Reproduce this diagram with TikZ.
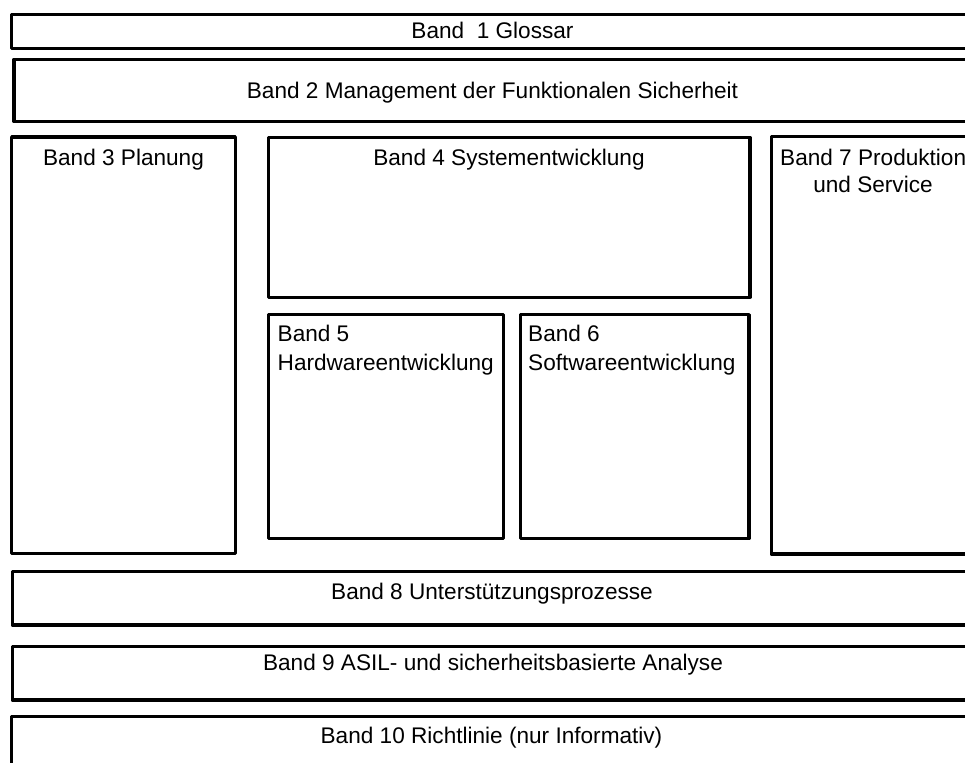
\documentclass[tikz,border=0pt]{standalone}
\usepackage{fontspec}
\setmainfont{Liberation Sans}
\begin{document}
\begin{tikzpicture}[x=1bp,y=-1bp,
  box/.style={draw=black,line width=3.3bp,line join=round},
  lbl/.style={inner sep=0pt,anchor=base,font=\fontsize{22.6bp}{27bp}\selectfont},
  lbll/.style={lbl,anchor=base west}]
  \clip (0,0) rectangle (965,763);
  \fill[white] (0,0) rectangle (965,763);

  % horizontal bands
  \draw[box] (11.5,14.3) rectangle (975,48.7);
  \draw[box] (14,59.3) rectangle (975,121.5);
  \draw[box] (12.3,571.7) rectangle (975,625);
  \draw[box] (12.3,646.7) rectangle (975,700);
  \draw[box] (11.3,716.7) rectangle (975,800);

  % middle block
  \draw[box] (11.7,137) rectangle (235.3,553.8);
  \draw[box] (268.7,137.5) rectangle (750,297.2);
  \draw[box] (268.3,314.7) rectangle (503.5,538.7);
  \draw[box] (520.5,314.7) rectangle (749,538.7);
  \draw[box] (771.2,136.8) rectangle (975,554);

  % labels
  \node[lbl] (t1) at (492.5,38.3) {Band\ \ 1 Glossar};
  \node[lbl] (t2) at (492.5,98.3) {Band 2 Management der Funktionalen Sicherheit};
  \node[lbl] (t3) at (123.5,165) {Band 3 Planung};
  \node[lbl] (t4) at (509,165) {Band 4 Systementwicklung};
  \node[lbll] (t5a) at (277.5,341.7) {Band 5};
  \node[lbll] (t5b) at (277.5,370) {Hardwareentwicklung};
  \node[lbll] (t6a) at (528,341.7) {Band 6};
  \node[lbll] (t6b) at (528,370) {Softwareentwicklung};
  \node[lbll] (t7a) at (780,165) {Band 7 Produktion};
  \node[lbl] (t7b) at (873,192.7) {und Service};
  \node[lbl] (t8) at (492,599.3) {Band 8 Unterstützungsprozesse};
  \node[lbl] (t9) at (493,670) {Band 9 ASIL- und sicherheitsbasierte Analyse};
  \node[lbl] (t10) at (491.5,743.3) {Band 10 Richtlinie (nur Informativ)};
\end{tikzpicture}
\end{document}
